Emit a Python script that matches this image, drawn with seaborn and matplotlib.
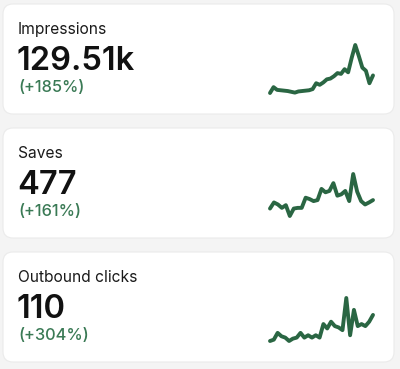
import numpy as np
import pandas as pd
import matplotlib
matplotlib.use("Agg")
import matplotlib.pyplot as plt
from matplotlib.patches import FancyBboxPatch
import seaborn as sns

sns.set_style("white")
plt.rcParams['font.family'] = ['Inter', 'DejaVu Sans']

# card data
titles = ['Impressions', 'Saves', 'Outbound clicks']
totals = ['129.51k', '477', '110']
changes = ['(+185%)', '(+161%)', '(+304%)']

impressions = [5, 20, 13, 12, 11, 10, 8, 6, 9, 10, 11, 12, 15, 30, 26, 32, 40,
               42, 48, 56, 54, 66, 58, 95, 128, 100, 70, 62, 30, 50]
saves = [30, 48, 42, 32, 40, 8, 30, 32, 32, 62, 58, 52, 55, 88, 78, 82, 105,
         68, 72, 82, 52, 132, 80, 52, 42, 48, 55]
outbound = [8, 12, 32, 22, 18, 8, 15, 18, 32, 18, 25, 18, 25, 18, 58, 45, 65,
            52, 48, 40, 135, 25, 100, 52, 58, 52, 65, 85]
series = [impressions, saves, outbound]

W, H = 400, 369
line_green = '#2a6643'
text_green = '#3a7a55'

fig = plt.figure(figsize=(W / 100, H / 100), dpi=100)
fig.patch.set_facecolor('#f4f4f4')

# background axes in pixel units
bg = fig.add_axes([0, 0, 1, 1])
bg.set_xlim(0, W)
bg.set_ylim(H, 0)
bg.axis('off')

card_tops = [4, 128, 252]
card_h = 110
spark_y = [(45, 93), (174, 216), (298, 341)]

for i, top in enumerate(card_tops):
    card = FancyBboxPatch((3, top), 391, card_h,
                          boxstyle="round,pad=0,rounding_size=10",
                          facecolor='white', edgecolor='#ebebeb', linewidth=0.8)
    bg.add_patch(card)
    bg.text(18, top + 30, titles[i], fontsize=11.2, color='#1a1a1a',
            va='baseline', ha='left')
    bg.text(17, top + 66, totals[i], fontsize=23.5, color='#111111',
            fontweight='semibold', va='baseline', ha='left')
    bg.text(18, top + 87.5, changes[i], fontsize=11.8, color=text_green,
            fontweight='medium', va='baseline', ha='left')

    # sparkline
    y0, y1 = spark_y[i]
    ax = fig.add_axes([270 / W, 1 - y1 / H, 103 / W, (y1 - y0) / H])
    df = pd.DataFrame({'x': np.arange(len(series[i])), 'v': series[i]})
    sns.lineplot(data=df, x='x', y='v', ax=ax, color=line_green,
                 linewidth=2.8, clip_on=False)
    ax.set_xlim(0, len(series[i]) - 1)
    ax.set_ylim(min(series[i]), max(series[i]))
    ax.axis('off')
    ax.patch.set_alpha(0)

fig.savefig('out.png', dpi=100, facecolor=fig.get_facecolor())
